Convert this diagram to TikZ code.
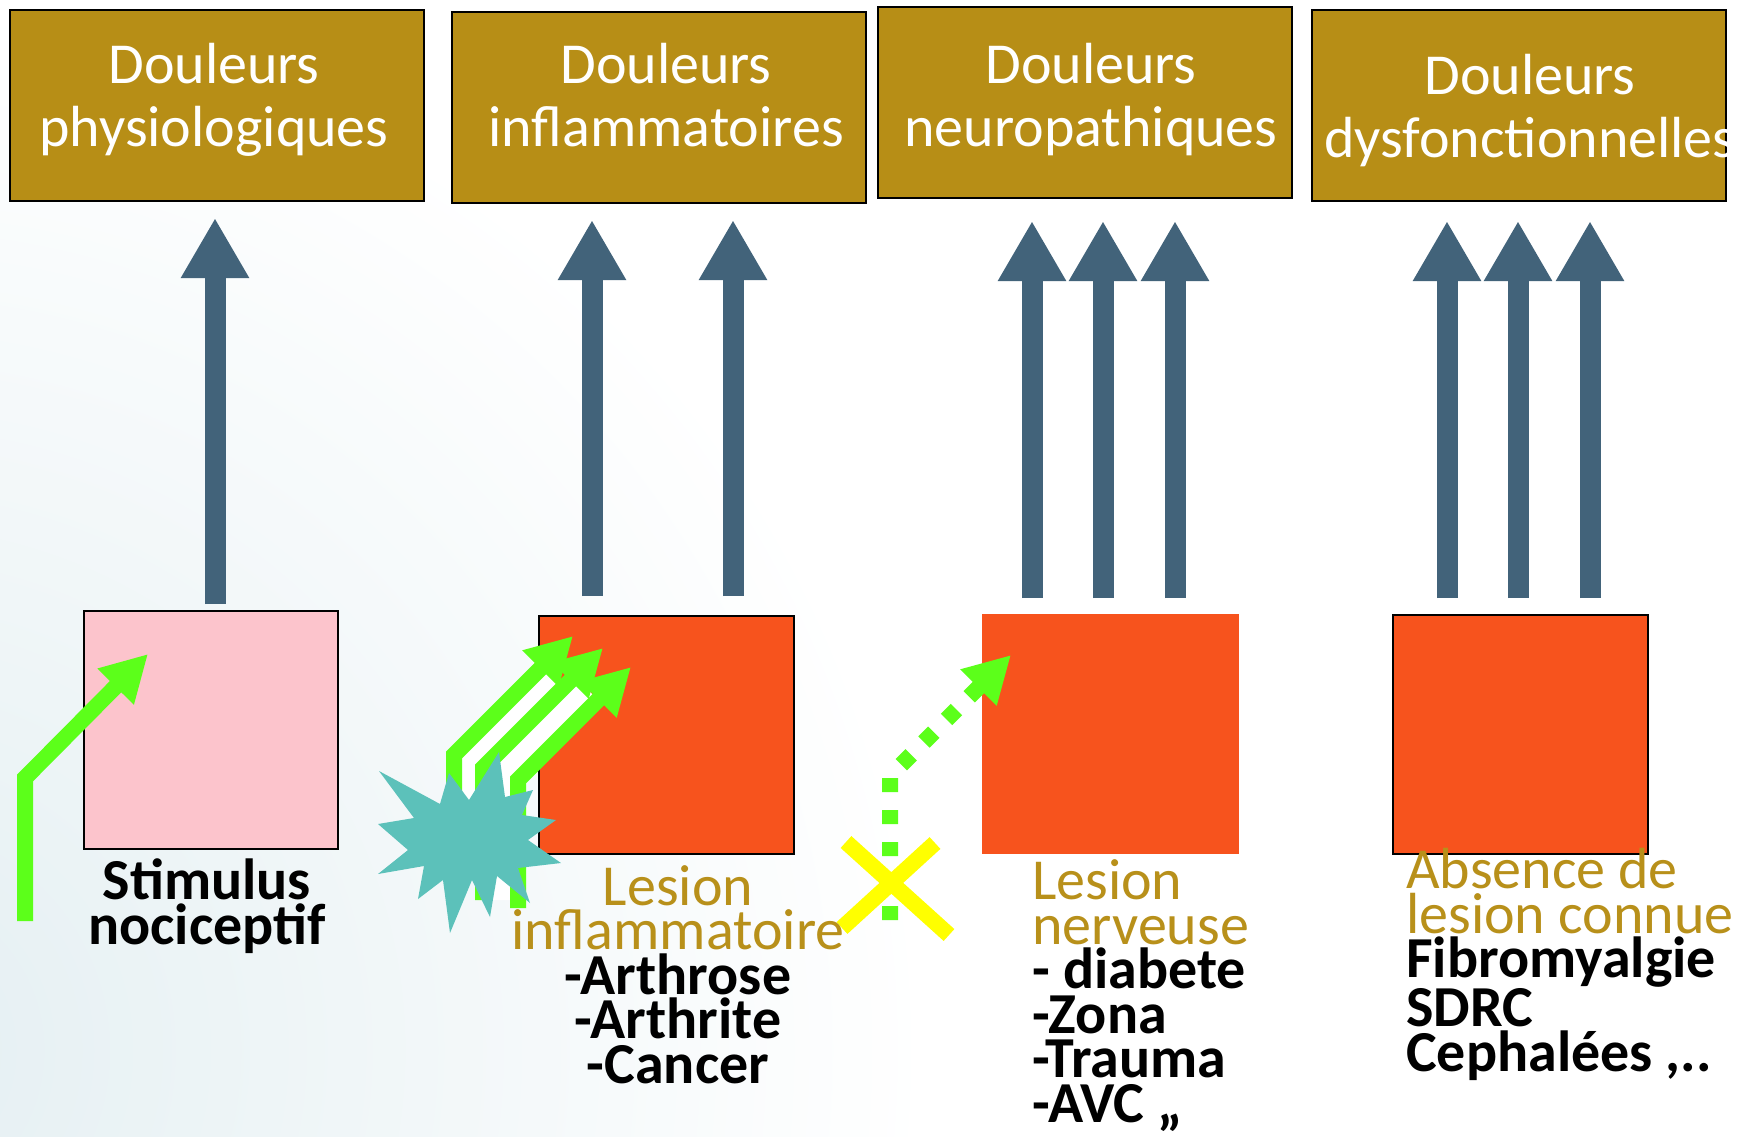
\documentclass[tikz,border=0pt]{standalone}
\usepackage{fontspec}
\setmainfont{Carlito}
\usetikzlibrary{arrows.meta,calc}

\definecolor{headgold}{HTML}{B78E16}
\definecolor{textgold}{HTML}{B8901A}
\definecolor{arrowblue}{HTML}{42637A}
\definecolor{pinkbox}{HTML}{FCC4CC}
\definecolor{orangebox}{HTML}{F7531D}
\definecolor{zgreen}{HTML}{5CFF1A}
\definecolor{burst}{HTML}{5CC1BA}
\definecolor{crossyellow}{HTML}{FFFF00}
\definecolor{bgblue}{HTML}{E4EFF2}

\tikzset{
  headbox/.style={draw=black, line width=2.5pt, fill=headgold, minimum width=414pt,
    minimum height=191pt, inner sep=0pt, outer sep=0pt, anchor=north west},
  headtxt/.style={text=white, font=\fontsize{58}{63}\selectfont, align=center, inner sep=0pt},
  lesionbox/.style={line width=2.5pt, inner sep=0pt, outer sep=0pt, anchor=north west,
    minimum width=255pt, minimum height=238pt},
  bodytxt/.style={font=\fontsize{58}{44.5}\selectfont, inner sep=0pt},
  bluearrow/.style={draw=arrowblue, line width=21pt, -{Triangle[width=64pt,length=60pt]}},
  greenarrow/.style={draw=zgreen, line width=16pt, line join=miter,
    -{Triangle[width=48pt,length=46pt]}},
  gap/.style={draw=white, line width=20pt, line join=miter},
  dottedarrow/.style={greenarrow, dash pattern=on 14pt off 18pt},
  crossbar/.style={draw=crossyellow, line width=16pt},
}

\begin{document}
\begin{tikzpicture}[x=1pt,y=-1pt]
\useasboundingbox (0,0) rectangle (1737,1136);
\clip (0,0) rectangle (1737,1136);

% background with a soft blue glow on the lower left
\fill[white] (0,0) rectangle (1737,1136);
\shade[inner color=bgblue, outer color=white] (-120,1050) circle (1050);

% category headers
\node[headbox] (H1) at (10,10) {};
\node[headbox] (H2) at (452,12) {};
\node[headbox] (H3) at (878,7) {};
\node[headbox] (H4) at (1312,10) {};
% (a multi-line node's base anchor sits on its last line)
\node[headtxt, anchor=base] (H1t) at (214,146) {Douleurs\\physiologiques};
\node[headtxt, anchor=base] (H2t) at (666,146) {Douleurs\\inflammatoires};
\node[headtxt, anchor=base] (H3t) at (1091,146) {Douleurs\\neuropathiques};
\node[headtxt, anchor=base] (H4t) at (1530,157) {Douleurs\\dysfonctionnelles};

% origin boxes
\node[lesionbox, draw=black, fill=pinkbox, minimum width=254pt] (A) at (84,611) {};
\node[lesionbox, draw=black, fill=orangebox] (B) at (539,616) {};
\node[lesionbox, fill=orangebox, minimum width=257pt, minimum height=240pt] (C) at (982,614) {};
\node[lesionbox, draw=black, fill=orangebox, minimum height=239pt] (D) at (1393,615) {};

% upward arrows towards the headers
\draw[bluearrow] ($(A.north)+(4,-7)$) -- ($(A.north |- H1.south)+(4,17)$);
\foreach \dx in {-74.5,66.5}
  \draw[bluearrow] ($(B.north)+(\dx,-20)$) -- ($(B.north |- H2.south)+(\dx,17)$);
\foreach \dx in {-78.5,-7.5,64.5}
  \draw[bluearrow] ($(C.north)+(\dx,-16)$) -- ($(C.north |- H3.south)+(\dx,23)$);
\foreach \dx in {-73.5,-2.5,69.5}
  \draw[bluearrow] ($(D.north)+(\dx,-17)$) -- ($(D.north |- H4.south)+(\dx,20)$);

% nociceptive stimulus
\coordinate (s0) at (25,921);
\coordinate (s1) at (25,778);
\coordinate (s2) at (148,654);
\draw[greenarrow] (s0) -- (s1) -- (s2);

% three stimuli into the inflammatory lesion, kept apart by white bands
\draw[gap] (468.5,880) -- (468.5,761.5) -- (556,674);
\draw[gap] (500.5,900) -- (500.5,774) -- (586,688);
\coordinate (i30) at (518,908);
\coordinate (i31) at (518,780);
\coordinate (i32) at (631,667);
\coordinate (i20) at (483,900);
\coordinate (i21) at (483,768);
\coordinate (i22) at (603,648);
\coordinate (i10) at (454,880);
\coordinate (i11) at (454,755);
\coordinate (i12) at (573,636);
\draw[greenarrow] (i30) -- (i31) -- (i32);
\draw[greenarrow] (i20) -- (i21) -- (i22);
\draw[greenarrow] (i10) -- (i11) -- (i12);

% burst
\fill[burst] (499,752) -- (505,797) -- (533,790) -- (522,815) -- (556,820) -- (528,840)
  -- (561,863) -- (518,868) -- (530,903) -- (497,876) -- (490,917) -- (472,880)
  -- (450,933) -- (443,880) -- (418,899) -- (424,866) -- (378,874) -- (408,850)
  -- (378,824) -- (414,818) -- (379,771) -- (440,804) -- (449,773) -- (469,800) -- cycle;

% interrupted stimulus into the nerve lesion
\coordinate (n0) at (890,920);
\coordinate (n1) at (890,776);
\coordinate (n2) at (1011,655);
\draw[dottedarrow] (n0) -- (n1) -- (n2);
\draw[crossbar] (846,842) -- (949,935);
\draw[crossbar] (935,843) -- (842,928);

% labels
\node[bodytxt, anchor=base, align=center] (At) at (207,944)
  {\textbf{Stimulus}\\\textbf{nociceptif}};
\node[bodytxt, anchor=base, align=center] (Bt) at (678,1083)
  {\textcolor{textgold}{Lesion}\\\textcolor{textgold}{inflammatoire}\\
   \textbf{-Arthrose}\\\textbf{-Arthrite}\\\textbf{-Cancer}};
\node[bodytxt, anchor=base west, align=left] (Ct) at (1032,1122)
  {\textcolor{textgold}{Lesion}\\\textcolor{textgold}{nerveuse}\\
   \textbf{- diabete}\\\textbf{-Zona}\\\textbf{-Trauma}\\\textbf{-AVC ,,}};
\node[bodytxt, anchor=base west, align=left] (Dt) at (1406,1071)
  {\textcolor{textgold}{Absence de}\\\textcolor{textgold}{lesion connue}\\
   \textbf{Fibromyalgie}\\\textbf{SDRC}\\\textbf{Cephalées ,..}};
\end{tikzpicture}
\end{document}
